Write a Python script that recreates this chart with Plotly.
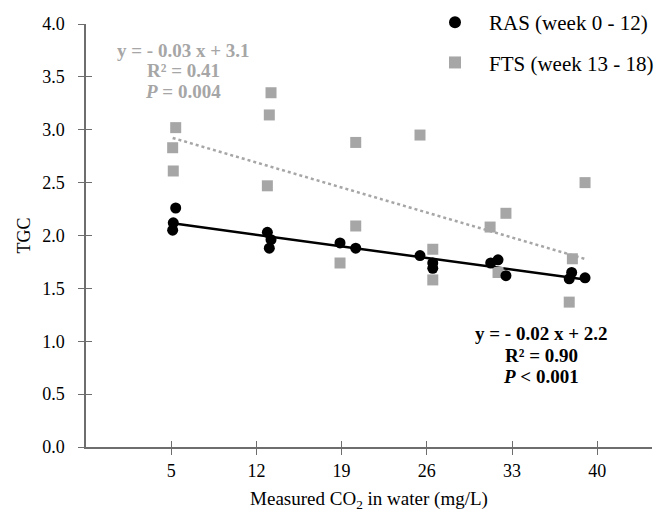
import numpy as np
import plotly.graph_objects as go

# RAS (week 0 - 12)
ras_x = [5.37, 5.17, 5.12, 12.9, 13.2, 13.06, 18.87, 20.16, 25.44, 26.49, 26.49,
         31.25, 31.85, 32.5, 37.9, 37.7, 39.0]
ras_y = [2.26, 2.12, 2.05, 2.03, 1.96, 1.88, 1.93, 1.88, 1.81, 1.74, 1.69,
         1.74, 1.77, 1.62, 1.65, 1.59, 1.60]

# FTS (week 13 - 18)
fts_x = [5.37, 5.12, 5.17, 13.06, 12.9, 13.2, 18.87, 20.16, 20.16, 25.44, 26.49, 26.49,
         31.2, 32.5, 31.85, 37.96, 37.7, 39.0]
fts_y = [3.02, 2.83, 2.61, 3.14, 2.47, 3.35, 1.74, 2.88, 2.09, 2.95, 1.87, 1.58,
         2.08, 2.21, 1.65, 1.78, 1.37, 2.50]

x_ticks = [5, 12, 19, 26, 33, 40]
y_ticks = [0.0, 0.5, 1.0, 1.5, 2.0, 2.5, 3.0, 3.5, 4.0]

fts_label = ["y = - 0.03 x + 3.1", "R² = 0.41", "<i>P</i> = 0.004"]
ras_label = ["y = - 0.02 x + 2.2", "R² = 0.90", "<i>P</i> < 0.001"]

FONT = "Liberation Serif, Times New Roman, serif"
GREY = "#a6a6a6"
AXIS = "#6e6e6e"

def fit_line(x, y):
    k, b = np.polyfit(x, y, 1)
    xs = np.array([min(x), max(x)])
    return xs, k * xs + b

fig = go.Figure()

fx, fy = fit_line(fts_x, fts_y)
fig.add_trace(go.Scatter(x=fx, y=fy, mode="lines", showlegend=False,
                         line=dict(color=GREY, width=2.5, dash="dot")))
rx, ry = fit_line(ras_x, ras_y)
fig.add_trace(go.Scatter(x=rx, y=ry, mode="lines", showlegend=False,
                         line=dict(color="black", width=2.5)))

fig.add_trace(go.Scatter(x=fts_x, y=fts_y, mode="markers", name="FTS (week 13 - 18)",
                         legendgroup="b", legendrank=2,
                         marker=dict(symbol="square", size=11, color=GREY)))
fig.add_trace(go.Scatter(x=ras_x, y=ras_y, mode="markers", name="RAS (week 0 - 12)",
                         legendgroup="a", legendrank=1,
                         marker=dict(symbol="circle", size=11, color="black")))

# overlay axes for inward half of crossing ticks
fig.add_trace(go.Scatter(x=[None], y=[None], xaxis="x2", yaxis="y2", showlegend=False))

xr = [-2, 44.5]
yr = [0, 4.0]
xdom = [0, 566 / 573]
ydom = [0, 423 / 447]
fig.update_layout(
    width=659, height=514,
    margin=dict(l=86, r=0, t=0, b=67),
    paper_bgcolor="white", plot_bgcolor="white",
    font=dict(family=FONT, size=18, color="black"),
    showlegend=True,
    legend=dict(x=1.0, y=0.9955, xanchor="right", yanchor="top",
                font=dict(family=FONT, size=21, color="black"),
                tracegroupgap=10, itemsizing="constant", itemwidth=58,
                bgcolor="rgba(0,0,0,0)"),
    xaxis=dict(domain=xdom, range=xr, tickvals=x_ticks, ticks="outside", ticklen=6,
               tickcolor=AXIS, showline=True, linecolor=AXIS, linewidth=1.5, showgrid=False,
               zeroline=False, automargin=False, tickfont=dict(family=FONT, size=18),
               ticklabelstandoff=1,
               title=dict(text="Measured CO<sub>2</sub> in water (mg/L)",
                          font=dict(family=FONT, size=19), standoff=11)),
    yaxis=dict(domain=ydom, range=yr, tickvals=y_ticks, tickformat=".1f", ticks="outside",
               ticklen=6, tickcolor=AXIS, showline=True, linecolor=AXIS, linewidth=1.5,
               showgrid=False, zeroline=False, automargin=False,
               tickfont=dict(family=FONT, size=18), ticklabelstandoff=10,
               title=dict(text="TGC", font=dict(family=FONT, size=18, color="black"),
                          standoff=7)),
    xaxis2=dict(domain=xdom, range=xr, tickvals=x_ticks, ticks="inside", ticklen=6,
                tickcolor=AXIS, showticklabels=False, overlaying="x", showgrid=False,
                zeroline=False),
    yaxis2=dict(domain=ydom, range=yr, tickvals=y_ticks, ticks="inside", ticklen=6,
                tickcolor=AXIS, showticklabels=False, overlaying="y", showgrid=False,
                zeroline=False),
)

for txt, yy in zip(fts_label, [3.754, 3.565, 3.366]):
    fig.add_annotation(x=5.97, y=yy, xref="x", yref="y", showarrow=False,
                       text="<b>" + txt + "</b>",
                       font=dict(family=FONT, size=19, color=GREY))
for txt, yy in zip(ras_label, [1.078, 0.870, 0.662]):
    fig.add_annotation(x=35.39, y=yy, xref="x", yref="y", showarrow=False,
                       text="<b>" + txt + "</b>",
                       font=dict(family=FONT, size=19, color="black"))

fig.write_html("out.html", config={"displayModeBar": False},
               post_script="document.body.style.margin='0';document.body.style.overflow='hidden';")
